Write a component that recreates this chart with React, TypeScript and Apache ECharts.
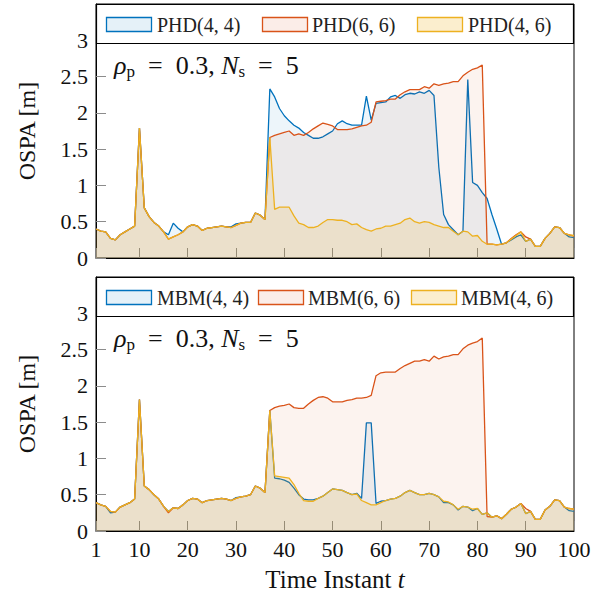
import React, { useEffect, useRef } from "react";
import * as echarts from "echarts";

const timeInstants = Array.from({ length: 100 }, (_, i) => i + 1);
const xTicks = [1, 10, 20, 30, 40, 50, 60, 70, 80, 90, 100];
const yTicks = [0, 0.5, 1, 1.5, 2, 2.5, 3];

const topLabels = ["PHD(4, 4)", "PHD(6, 6)", "PHD(4, 6)"];
const bottomLabels = ["MBM(4, 4)", "MBM(6, 6)", "MBM(4, 6)"];

const phd44 = [
  0.40, 0.37, 0.36, 0.27, 0.25, 0.32, 0.36, 0.40, 0.44, 1.79,
  0.69, 0.57, 0.49, 0.44, 0.36, 0.32, 0.48, 0.41, 0.36, 0.43,
  0.46, 0.44, 0.38, 0.41, 0.42, 0.43, 0.44, 0.43, 0.43, 0.47,
  0.48, 0.49, 0.49, 0.62, 0.59, 0.53, 2.33, 2.22, 2.06, 1.96,
  1.89, 1.83, 1.79, 1.73, 1.69, 1.65, 1.65, 1.67, 1.71, 1.75,
  1.85, 1.89, 1.85, 1.83, 1.83, 1.83, 2.23, 1.90, 2.13, 2.14,
  2.15, 2.22, 2.24, 2.20, 2.25, 2.27, 2.26, 2.29, 2.27, 2.31,
  2.24, 1.25, 0.60, 0.46, 0.39, 0.32, 0.37, 2.46, 1.04, 1.00,
  0.90, 0.82, 0.60, 0.40, 0.19, 0.21, 0.25, 0.29, 0.32, 0.23,
  0.26, 0.16, 0.16, 0.27, 0.34, 0.43, 0.42, 0.34, 0.29, 0.28,
];
const phd66 = [
  0.40, 0.37, 0.36, 0.27, 0.25, 0.32, 0.36, 0.40, 0.44, 1.79,
  0.69, 0.57, 0.49, 0.44, 0.36, 0.26, 0.29, 0.32, 0.36, 0.43,
  0.46, 0.44, 0.38, 0.41, 0.42, 0.43, 0.44, 0.43, 0.42, 0.45,
  0.48, 0.49, 0.49, 0.62, 0.59, 0.53, 1.66, 1.69, 1.71, 1.73,
  1.75, 1.69, 1.71, 1.69, 1.73, 1.78, 1.82, 1.86, 1.84, 1.82,
  1.77, 1.77, 1.77, 1.78, 1.80, 1.82, 1.83, 1.87, 2.15, 2.16,
  2.17, 2.19, 2.19, 2.25, 2.29, 2.32, 2.32, 2.32, 2.36, 2.34,
  2.40, 2.38, 2.40, 2.41, 2.43, 2.43, 2.51, 2.56, 2.60, 2.62,
  2.66, 0.19, 0.19, 0.18, 0.19, 0.21, 0.27, 0.32, 0.36, 0.29,
  0.26, 0.16, 0.16, 0.27, 0.34, 0.43, 0.42, 0.34, 0.32, 0.30,
];
const phd46 = [
  0.40, 0.37, 0.36, 0.27, 0.25, 0.32, 0.36, 0.40, 0.44, 1.79,
  0.69, 0.57, 0.49, 0.44, 0.36, 0.26, 0.29, 0.32, 0.36, 0.43,
  0.46, 0.44, 0.38, 0.41, 0.42, 0.43, 0.44, 0.43, 0.42, 0.45,
  0.48, 0.49, 0.49, 0.62, 0.59, 0.53, 1.66, 0.67, 0.70, 0.70,
  0.70, 0.58, 0.48, 0.46, 0.42, 0.42, 0.44, 0.49, 0.53, 0.53,
  0.52, 0.52, 0.50, 0.46, 0.47, 0.42, 0.39, 0.37, 0.40, 0.41,
  0.44, 0.44, 0.46, 0.48, 0.53, 0.55, 0.50, 0.48, 0.50, 0.49,
  0.46, 0.44, 0.42, 0.42, 0.37, 0.32, 0.37, 0.36, 0.30, 0.31,
  0.23, 0.19, 0.19, 0.18, 0.19, 0.21, 0.26, 0.31, 0.36, 0.23,
  0.26, 0.16, 0.16, 0.27, 0.34, 0.43, 0.42, 0.34, 0.32, 0.31,
];

const mbm44 = [
  0.39, 0.36, 0.34, 0.25, 0.26, 0.33, 0.36, 0.39, 0.44, 1.81,
  0.62, 0.57, 0.50, 0.44, 0.34, 0.27, 0.32, 0.31, 0.36, 0.42,
  0.45, 0.44, 0.39, 0.42, 0.43, 0.44, 0.45, 0.44, 0.42, 0.46,
  0.47, 0.48, 0.50, 0.62, 0.59, 0.53, 1.66, 0.73, 0.72, 0.70,
  0.67, 0.59, 0.50, 0.44, 0.43, 0.43, 0.45, 0.48, 0.53, 0.58,
  0.57, 0.56, 0.53, 0.50, 0.52, 0.45, 1.49, 1.49, 0.38, 0.41,
  0.42, 0.44, 0.45, 0.48, 0.53, 0.56, 0.53, 0.50, 0.50, 0.52,
  0.50, 0.47, 0.39, 0.39, 0.36, 0.29, 0.34, 0.33, 0.28, 0.31,
  0.23, 0.25, 0.19, 0.21, 0.17, 0.23, 0.30, 0.33, 0.38, 0.24,
  0.27, 0.16, 0.16, 0.29, 0.34, 0.43, 0.42, 0.33, 0.28, 0.27,
];
const mbm66 = [
  0.39, 0.36, 0.34, 0.27, 0.26, 0.33, 0.36, 0.39, 0.44, 1.81,
  0.62, 0.57, 0.50, 0.44, 0.34, 0.25, 0.32, 0.31, 0.36, 0.42,
  0.45, 0.44, 0.39, 0.42, 0.43, 0.44, 0.45, 0.44, 0.42, 0.45,
  0.47, 0.48, 0.50, 0.62, 0.59, 0.53, 1.66, 1.70, 1.72, 1.73,
  1.75, 1.70, 1.69, 1.69, 1.75, 1.80, 1.84, 1.85, 1.83, 1.78,
  1.78, 1.78, 1.80, 1.81, 1.83, 1.83, 1.84, 1.87, 2.14, 2.18,
  2.19, 2.19, 2.19, 2.24, 2.28, 2.31, 2.34, 2.34, 2.36, 2.34,
  2.41, 2.37, 2.40, 2.41, 2.43, 2.43, 2.51, 2.56, 2.59, 2.61,
  2.66, 0.20, 0.19, 0.21, 0.17, 0.23, 0.30, 0.33, 0.38, 0.31,
  0.27, 0.16, 0.16, 0.29, 0.34, 0.43, 0.42, 0.33, 0.31, 0.30,
];
const mbm46 = [
  0.39, 0.36, 0.34, 0.27, 0.26, 0.33, 0.36, 0.39, 0.44, 1.81,
  0.62, 0.57, 0.50, 0.44, 0.34, 0.27, 0.32, 0.31, 0.36, 0.42,
  0.45, 0.44, 0.39, 0.42, 0.43, 0.44, 0.45, 0.44, 0.42, 0.45,
  0.47, 0.48, 0.50, 0.62, 0.59, 0.53, 1.66, 0.76, 0.75, 0.74,
  0.73, 0.64, 0.52, 0.42, 0.41, 0.41, 0.45, 0.48, 0.53, 0.58,
  0.57, 0.56, 0.53, 0.50, 0.51, 0.42, 0.39, 0.36, 0.36, 0.39,
  0.42, 0.44, 0.45, 0.48, 0.53, 0.56, 0.53, 0.50, 0.50, 0.52,
  0.50, 0.47, 0.41, 0.40, 0.36, 0.30, 0.34, 0.33, 0.30, 0.31,
  0.23, 0.25, 0.19, 0.21, 0.17, 0.23, 0.30, 0.33, 0.38, 0.24,
  0.27, 0.16, 0.16, 0.29, 0.34, 0.43, 0.42, 0.33, 0.31, 0.30,
];

const lineColors = ["#0072BD", "#D95319", "#EDB120"];
const fillOpacities = [0.1, 0.1, 0.22];
const FONT = '"Liberation Serif", "Times New Roman", serif';

const GRID_LEFT = 96;
const GRID_RIGHT = 35;
const GRID_H = 254;
const TOP1 = 4;
const TOP2 = 277;

function hexA(hex: string, a: number) {
  const r = parseInt(hex.slice(1, 3), 16);
  const g = parseInt(hex.slice(3, 5), 16);
  const b = parseInt(hex.slice(5, 7), 16);
  return `rgba(${r},${g},${b},${a})`;
}

export default function App() {
  const ref = useRef<HTMLDivElement>(null);
  useEffect(() => {
    if (!ref.current) return;
    const chart = echarts.init(ref.current, null, { renderer: "svg" });

    const pair = (vals: number[]) => vals.map((v, i) => [timeInstants[i], v]);
    const panels = [
      { top: TOP1, labels: topLabels, data: [phd44, phd66, phd46] },
      { top: TOP2, labels: bottomLabels, data: [mbm44, mbm66, mbm46] },
    ];

    const xAxis: any[] = panels.map((p, k) => ({
      type: "value",
      gridIndex: k,
      min: 1,
      max: 100,
      axisLine: { show: true, onZero: false, lineStyle: { color: "#000", width: 1 } },
      axisTick: { show: true, inside: true, length: 10, customValues: xTicks, lineStyle: { color: "#8c8c8c", width: 1 } },
      axisLabel: {
        show: k === 1,
        customValues: xTicks,
        fontFamily: FONT,
        fontSize: 22,
        color: "#111",
        margin: 7,
      },
      splitLine: { show: false },
      name: k === 1 ? "{n|Time Instant }{i|t}" : "",
      nameLocation: "middle",
      nameGap: 36,
      nameTextStyle: {
        rich: {
          n: { fontFamily: FONT, fontSize: 25, color: "#111" },
          i: { fontFamily: FONT, fontSize: 25, fontStyle: "italic", color: "#111" },
        },
      },
    }));

    const yAxis: any[] = panels.map((p, k) => ({
      type: "value",
      gridIndex: k,
      min: 0,
      max: 3.5,
      axisLine: { show: true, lineStyle: { color: "#000", width: 1 } },
      axisTick: { show: true, inside: true, length: 10, customValues: yTicks, lineStyle: { color: "#8c8c8c", width: 1 } },
      axisLabel: {
        customValues: yTicks,
        fontFamily: FONT,
        fontSize: 22,
        color: "#111",
        margin: 8,
      },
      splitLine: { show: false },
      name: "OSPA [m]",
      nameLocation: "middle",
      nameGap: 57,
      nameTextStyle: { fontFamily: FONT, fontSize: 24, color: "#111" },
    }));

    const series: any[] = [];
    panels.forEach((p, k) => {
      p.data.forEach((vals, j) => {
        series.push({
          type: "line",
          name: p.labels[j],
          xAxisIndex: k,
          yAxisIndex: k,
          data: pair(vals),
          symbol: "none",
          lineStyle: { color: lineColors[j], width: 1.3 },
          itemStyle: { color: lineColors[j] },
          areaStyle: { color: hexA(lineColors[j], fillOpacities[j]), origin: "start" },
          z: 2 + j,
        });
      });
    });

    const legendPatchX = [
      [106, 262, 417],
      [106, 258, 411],
    ];
    const legendTextX = [
      [157, 312, 468],
      [157, 308, 461],
    ];
    const graphicEls: any[] = [];
    panels.forEach((p, k) => {
      const boxTop = p.top;
      graphicEls.push({
        type: "rect",
        z: 100,
        shape: { x: GRID_LEFT + 0.5, y: boxTop + 0.5, width: 609 - GRID_LEFT - GRID_RIGHT - 1, height: 39 },
        style: { fill: "#fff", stroke: "#000", lineWidth: 1.2 },
      });
      p.labels.forEach((lab, j) => {
        graphicEls.push({
          type: "rect",
          z: 101,
          shape: { x: legendPatchX[k][j] + 0.5, y: boxTop + 13.5, width: 45, height: 14 },
          style: { fill: hexA(lineColors[j], fillOpacities[j]), stroke: lineColors[j], lineWidth: 1.3 },
        });
        graphicEls.push({
          type: "text",
          z: 101,
          style: {
            text: lab,
            x: legendTextX[k][j],
            y: boxTop + 20.5,
            font: `20px ${FONT}`,
            fill: "#222",
            textAlign: "left",
            textVerticalAlign: "middle",
          },
        });
      });
    });

    const annotationRich = {
      i: { fontFamily: FONT, fontSize: 26, fontStyle: "italic", fontWeight: "normal", color: "#111", lineHeight: 30 },
      n: { fontFamily: FONT, fontSize: 26, fontWeight: "normal", color: "#111", lineHeight: 30 },
      s: { fontFamily: FONT, fontSize: 17, fontWeight: "normal", color: "#111", lineHeight: 14, verticalAlign: "bottom" },
    };

    chart.setOption({
      animation: false,
      grid: panels.map((p) => ({
        left: GRID_LEFT,
        right: GRID_RIGHT,
        top: p.top,
        height: GRID_H,
        show: true,
        borderColor: "#000",
        borderWidth: 1,
        backgroundColor: "transparent",
      })),
      title: panels.map((p) => ({
        text: "{i|ρ}{s|p}{n|  =  0.3, }{i|N}{s|s}{n|  =  5}",
        left: 114,
        top: p.top + 46,
        padding: 0,
        textStyle: { fontWeight: "normal", rich: annotationRich },
      })),
      xAxis,
      yAxis,
      series,
      graphic: { elements: graphicEls },
    });

    return () => chart.dispose();
  }, []);

  return (
    <div
      ref={ref}
      style={{ position: "fixed", left: 0, top: 0, width: 609, height: 595, background: "#fff" }}
    />
  );
}
